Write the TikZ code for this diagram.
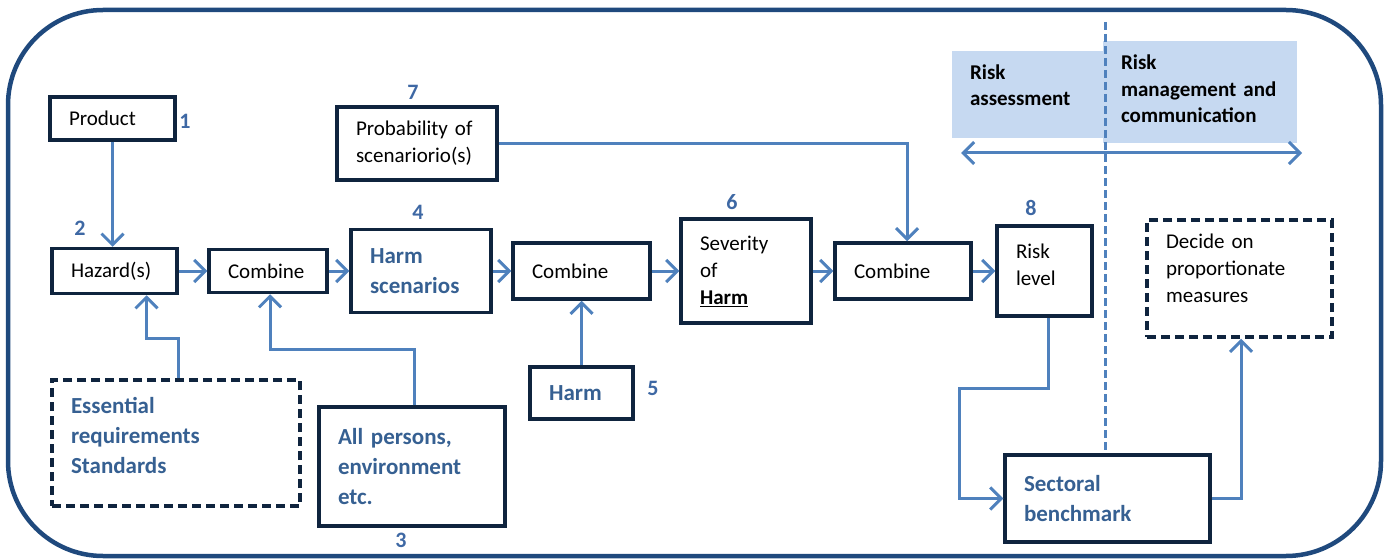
\documentclass[tikz,border=0pt]{standalone}
\usepackage{fontspec}
\setmainfont{Carlito}
\usetikzlibrary{arrows.meta}

\definecolor{frameblue}{RGB}{31,73,125}
\definecolor{navy}{RGB}{15,36,62}
\definecolor{connblue}{RGB}{79,129,189}
\definecolor{textblue}{RGB}{54,96,146}
\definecolor{numblue}{RGB}{62,104,164}
\definecolor{hdrfill}{RGB}{198,217,241}

\tikzset{
  box/.style={draw=navy, line width=3.5pt, inner xsep=19pt, inner ysep=0pt, align=left,
    font=\fontsize{21}{27}\selectfont},
  dbox/.style={box, dash pattern=on 9pt off 5pt},
  bluetext/.style={text=textblue, font=\fontsize{23}{30}\selectfont\bfseries},
  num/.style={text=numblue, inner sep=0pt, font=\fontsize{22}{24}\selectfont\bfseries},
  conn/.style={draw=connblue, line width=3pt, -{Straight Barb[length=11pt,width=22pt]}},
  hdr/.style={fill=hdrfill, inner xsep=18pt, inner ysep=0pt, align=left,
    font=\fontsize{21}{26.5}\selectfont\bfseries},
}

\begin{document}
\begin{tikzpicture}[x=1pt,y=-1pt]
\useasboundingbox (0,0) rectangle (1387,559);
\draw[frameblue, line width=4.5pt, rounded corners=95pt] (8,10) rectangle (1381,556);

% risk assessment / management banner
\node[hdr, text width=115pt, minimum height=87pt, text depth=45pt] (assess) at (1027.5,94.5) {Risk\\assessment};
\node[hdr, text width=158pt, minimum height=102pt, text depth=59pt] (manage) at (1200,92) {Risk\\management and\\communication};
\coordinate (ra) at (961,153);
\coordinate (rb) at (1302,153);
\draw[conn, {Straight Barb[length=11pt,width=22pt]}-{Straight Barb[length=11pt,width=22pt]}] (ra) -- (rb);

% main chain
\node[box, text width=87pt, minimum height=43pt] (product) at (112.5,118.5) {Product};
\node[box, text width=87pt, minimum height=45pt] (hazard) at (114.5,271) {Hazard(s)};
\node[box, text width=80pt, minimum height=43pt] (combA) at (268,271) {Combine};
\node[box, bluetext, text width=102pt, minimum height=83pt] (harmscen) at (421,271) {Harm\\scenarios};
\node[box, text width=122pt, minimum height=73pt] (prob) at (417,143.5) {Probability of\\scenariorio(s)};
\node[box, text width=99pt, minimum height=56pt] (combB) at (581.5,271) {Combine};
\node[box, text width=92pt, minimum height=104pt] (severity) at (746,271) {Severity\\of\\\underline{\textbf{Harm}}};
\node[box, text width=98pt, minimum height=56pt] (combC) at (903,271) {Combine};
\node[box, text width=57pt, minimum height=90pt, text depth=40pt] (risk) at (1044.5,271) {Risk\\level};
\node[dbox, text width=147pt, minimum height=117pt, text depth=75pt] (decide) at (1239.5,278.5) {Decide on\\proportionate\\measures};
\node[box, bluetext, text width=167pt, minimum height=87pt] (sector) at (1107.5,498.5) {Sectoral\\benchmark};

% inputs from below
\node[dbox, bluetext, text width=210pt, minimum height=126pt, text depth=76pt] (essential) at (176,443) {Essential\\requirements\\Standards};
\node[box, bluetext, text width=148pt, minimum height=119pt] (persons) at (412,466.5) {All persons,\\environment\\etc.};
\node[box, bluetext, text width=65pt, minimum height=52pt] (harm) at (581.5,393) {Harm};

\node[num] (n1) at (185,121) {1};
\node[num] (n2) at (80,228) {2};
\node[num] (n3) at (401,540) {3};
\node[num] (n4) at (418,212) {4};
\node[num] (n5) at (653,388) {5};
\node[num] (n6) at (732,202) {6};
\node[num] (n7) at (413,92) {7};
\node[num] (n8) at (1031,208) {8};

\draw[conn] (product.south) -- (product.south |- hazard.north);
\draw[conn] (hazard) -- (combA);
\draw[conn] (combA) -- (harmscen);
\draw[conn] (harmscen) -- (combB);
\draw[conn] (combB) -- (severity);
\draw[conn] (severity) -- (combC);
\draw[conn] (combC) -- (risk);
\draw[conn] (prob.east) -| ([xshift=4pt]combC.north);
\draw[conn] ([xshift=2pt]essential.north) -- ++(0,-40) -| ([xshift=32pt]hazard.south);
\draw[conn] ([xshift=2pt]persons.north) -- ++(0,-56) -| ([xshift=2pt]combA.south);
\draw[conn] (harm) -- (combB);
\draw[conn] ([xshift=4pt]risk.south) -- ++(0,71) -- ++(-89,0) |- (sector.west);
\draw[conn] (sector.east) -| ([xshift=1.5pt]decide.south);

% dividing line
\coordinate (divtop) at (1105,22);
\draw[connblue, line width=3pt, dash pattern=on 8pt off 4pt] (divtop) -- (divtop |- sector.north);
\end{tikzpicture}
\end{document}
